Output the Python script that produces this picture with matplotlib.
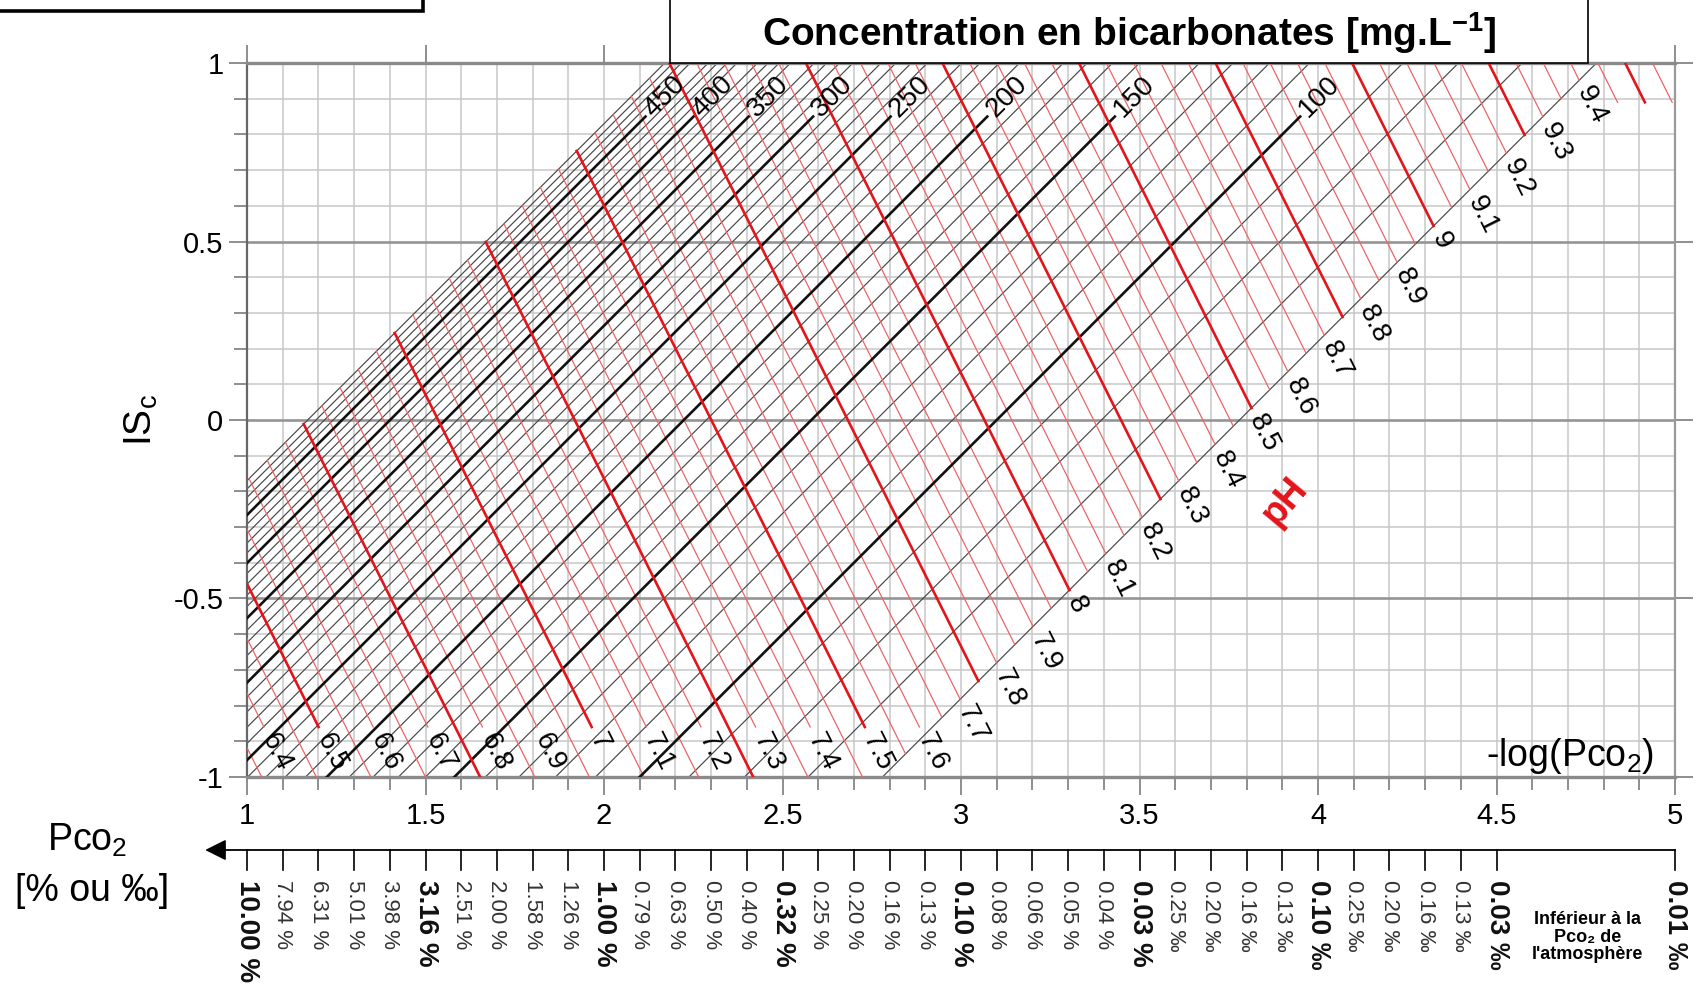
import numpy as np
import matplotlib.pyplot as plt
from matplotlib.patches import Rectangle
from matplotlib.transforms import blended_transform_factory
from matplotlib.ticker import MultipleLocator, FuncFormatter

plt.rcParams['font.family'] = ['Liberation Sans', 'DejaVu Sans']
plt.rcParams['mathtext.fontset'] = 'custom'
plt.rcParams['mathtext.rm'] = 'Liberation Sans'
plt.rcParams['mathtext.it'] = 'Liberation Sans:italic'
plt.rcParams['mathtext.bf'] = 'Liberation Sans:bold'
plt.rcParams['axes.unicode_minus'] = False

# bicarbonate lines [mg/L]: thin every 10, bold + labelled every 50
bic_lines = list(range(60, 500, 10))
bic_bold = [100, 150, 200, 250, 300, 350, 400, 450]

# pH lines: thin every 0.05, bold every 0.25, labels every 0.1
ph_lines = np.round(np.arange(6.35, 9.56, 0.05), 2)
ph_bold = np.round(np.arange(6.5, 9.6, 0.25), 2)
ph_labels = np.round(np.arange(6.4, 9.41, 0.1), 1)

# Pco2 scale under the -log(Pco2) axis
pco2_pos = [1.0, 1.1, 1.2, 1.3, 1.4, 1.5, 1.6, 1.7, 1.8, 1.9,
            2.0, 2.1, 2.2, 2.3, 2.4, 2.5, 2.6, 2.7, 2.8, 2.9,
            3.0, 3.1, 3.2, 3.3, 3.4, 3.5, 3.6, 3.7, 3.8, 3.9,
            4.0, 4.1, 4.2, 4.3, 4.4, 4.5, 5.0]
pco2_txt = ['10.00 %', '7.94 %', '6.31 %', '5.01 %', '3.98 %', '3.16 %', '2.51 %', '2.00 %', '1.58 %', '1.26 %',
            '1.00 %', '0.79 %', '0.63 %', '0.50 %', '0.40 %', '0.32 %', '0.25 %', '0.20 %', '0.16 %', '0.13 %',
            '0.10 %', '0.08 %', '0.06 %', '0.05 %', '0.04 %', '0.03 %', '0.25 ‰', '0.20 ‰', '0.16 ‰', '0.13 ‰',
            '0.10 ‰', '0.25 ‰', '0.20 ‰', '0.16 ‰', '0.13 ‰', '0.03 ‰', '0.01 ‰']
pco2_major = [1.0, 1.5, 2.0, 2.5, 3.0, 3.5, 4.0, 4.5, 5.0]


# nomogram scales, calibrated on the picture
# bicarbonate line:  ISc = x + bic_offset(HCO3)
def bic_offset(h):
    u = np.log10(h / 100.0)
    return -3.10 + 3.0 * u - 0.295 * u ** 2

# pH line:  ISc = -2 x + ph_offset(pH)
def ph_offset(ph):
    return 1.541 + 3.06 * (ph - 6.5)


c_min = bic_offset(min(bic_lines))
c_max = bic_offset(max(bic_lines))

fig = plt.figure(figsize=(17, 10.05), dpi=100)
ax = fig.add_axes([0.1453, 0.2269, 0.84, 0.7104])
ax.set_xlim(1, 5)
ax.set_ylim(-1, 1)

# grid
ax.xaxis.set_major_locator(MultipleLocator(0.5))
ax.xaxis.set_minor_locator(MultipleLocator(0.1))
ax.yaxis.set_major_locator(MultipleLocator(0.5))
ax.yaxis.set_minor_locator(MultipleLocator(0.1))
ax.set_axisbelow(True)
ax.grid(True, which='both', axis='x', color='#c8c8c8', lw=1.1)
ax.grid(True, which='minor', axis='y', color='#c8c8c8', lw=1.1)
ax.grid(True, which='major', axis='y', color='#959595', lw=1.9)

fmt = FuncFormatter(lambda v, p: '%g' % v)
ax.xaxis.set_major_formatter(fmt)
ax.yaxis.set_major_formatter(fmt)
ax.tick_params(which='both', direction='out', color='#707070', width=1.1, labelsize=21)
ax.tick_params(which='major', length=13, top=True, right=True)
ax.tick_params(which='minor', length=9.5, top=False, right=False)
ax.tick_params(axis='x', pad=5)
ax.tick_params(axis='y', pad=4)
for side, col, w in [('left', '#666666', 1.6), ('bottom', '#8a8a8a', 2.4),
                     ('top', '#8a8a8a', 2.4), ('right', '#9a9a9a', 1.6)]:
    ax.spines[side].set_color(col)
    ax.spines[side].set_linewidth(w)

# bicarbonate lines (slope 1)
for h in bic_lines:
    c = bic_offset(h)
    x0 = max(1.0, -1 - c)
    y0 = x0 + c
    bold = h in bic_bold
    y1 = 0.85 if bold else 1.0
    x1 = y1 - c
    if bold:
        ax.plot([x0, x1], [y0, y1], color='#111111', lw=1.9, zorder=4)
        g = 0.012
        ax.text(x1 + g * 0.7071, y1 + g * 0.7071, str(h), rotation=45, rotation_mode='anchor',
                ha='left', va='center', fontsize=20, zorder=6)
    else:
        ax.plot([x0, x1], [y0, y1], color='#474747', lw=0.85, zorder=2)

# pH lines (slope -2)
for ph in ph_lines:
    d = ph_offset(ph)
    xu = max(1.0, (d - c_max) / 3)
    yu = d - 2 * xu
    if yu > 1:
        yu = 1.0
        xu = (d - 1) / 2
    yl = (d - c_min) / 3 + c_min
    labelled = np.any(np.isclose(ph, ph_labels))
    if yl < -1:
        yl = -1.0
    if labelled and yl < -0.86:
        yl = -0.86
    if yl > 1:
        yl = 0.89
    xl = (d - yl) / 2
    if np.any(np.isclose(ph, ph_bold)):
        ax.plot([xu, xl], [yu, yl], color='#e3141b', lw=1.9, zorder=5)
    else:
        ax.plot([xu, xl], [yu, yl], color='#ee6464', lw=0.9, zorder=3)
    if labelled:
        g = 0.025
        ax.text(xl + g * 0.4472, yl - g * 0.8944, '%g' % ph, rotation=-63.43, rotation_mode='anchor',
                ha='left', va='center', fontsize=20, zorder=6)

ax.text(3.906, -0.227, 'pH', color='#e3141b', fontweight='bold', fontsize=27,
        rotation=50, ha='center', va='center', zorder=6)
ax.text(4.705, -0.94, '-log(Pco$_2$)', fontsize=27, ha='center', va='center', zorder=6)
ax.text(-0.074, 0.5, 'IS$_\\mathrm{c}$', transform=ax.transAxes, fontsize=28,
        rotation=90, ha='center', va='center')

# Pco2 scale with left arrow
trans = blended_transform_factory(ax.transData, fig.transFigure)
y_ax = 1 - 850 / 1005
y_tk = 1 - 870 / 1005
y_lb = 1 - 880 / 1005
ax.plot([1, 5], [y_ax, y_ax], color='black', lw=1.3, transform=trans, clip_on=False)
ax.annotate('', xy=(0.875, y_ax), xytext=(1.01, y_ax), xycoords=trans, textcoords=trans,
            arrowprops=dict(arrowstyle='-|>', color='black', lw=1.3, mutation_scale=32),
            annotation_clip=False)
for p, t in zip(pco2_pos, pco2_txt):
    ax.plot([p, p], [y_ax, y_tk], color='black', lw=1.2, transform=trans, clip_on=False)
    if p in pco2_major:
        ax.text(p, y_lb, t, transform=trans, rotation=270, ha='center', va='top',
                fontsize=20, fontweight='bold', color='#111111')
    else:
        ax.text(p, y_lb, t, transform=trans, rotation=270, ha='center', va='top',
                fontsize=16, color='#333333')
ax.text(4.756, 1 - 937 / 1005, "Inférieur à la\nPco\u2082 de\nl'atmosphère", transform=trans,
        ha='center', va='center', fontsize=13, fontweight='bold', linespacing=1.05)

fig.text(0.051, 0.164, 'Pco$_2$', fontsize=27, ha='center', va='center')
fig.text(0.054, 0.113, '[% ou ‰]', fontsize=27, ha='center', va='center')

# title box and cut-off box at top left
fig.patches.append(Rectangle((0.394, 1 - 63 / 1005), 0.934 - 0.394, 0.08, transform=fig.transFigure,
                             facecolor='white', edgecolor='black', lw=1.2, zorder=10))
fig.text(0.664, 0.9666, 'Concentration en bicarbonates [mg.L$^{\\mathbf{-1}}$]', fontsize=28,
         fontweight='bold', ha='center', va='center', zorder=11)
fig.patches.append(Rectangle((-0.01, 1 - 11 / 1005), 0.259, 0.05, transform=fig.transFigure,
                             facecolor='white', edgecolor='black', lw=2.6, zorder=10))

fig.savefig('out.png', dpi=100)
